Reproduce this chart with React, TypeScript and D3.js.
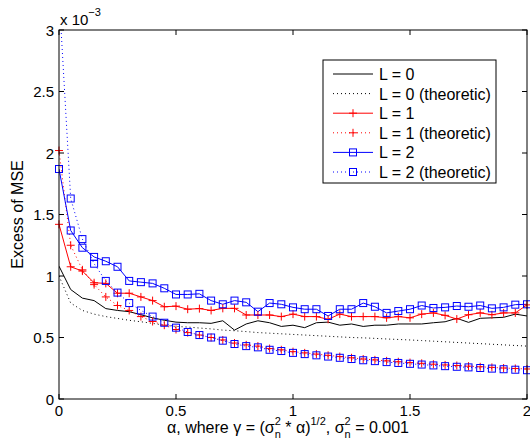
import React from "react";
import * as d3 from "d3";

const alpha = [0, 0.05, 0.1, 0.15, 0.2, 0.25, 0.3, 0.35, 0.4, 0.45, 0.5, 0.55, 0.6, 0.65, 0.7, 0.75, 0.8, 0.85, 0.9, 0.95, 1.0, 1.05, 1.1, 1.15, 1.2, 1.25, 1.3, 1.35, 1.4, 1.45, 1.5, 1.55, 1.6, 1.65, 1.7, 1.75, 1.8, 1.85, 1.9, 1.95, 2.0];

// values in units of 1e-3
const L0 = [1.08, 0.89, 0.82, 0.80, 0.735, 0.72, 0.71, 0.685, 0.66, 0.64, 0.625, 0.62, 0.62, 0.615, 0.636, 0.56, 0.61, 0.636, 0.62, 0.59, 0.60, 0.58, 0.62, 0.625, 0.60, 0.61, 0.59, 0.60, 0.60, 0.61, 0.61, 0.61, 0.62, 0.628, 0.656, 0.623, 0.656, 0.66, 0.664, 0.69, 0.675];
const L0theo = [1.0, 0.78, 0.72, 0.69, 0.67, 0.655, 0.64, 0.628, 0.615, 0.60, 0.59, 0.585, 0.577, 0.57, 0.56, 0.555, 0.548, 0.54, 0.535, 0.53, 0.525, 0.52, 0.515, 0.51, 0.505, 0.50, 0.497, 0.493, 0.488, 0.484, 0.48, 0.475, 0.47, 0.465, 0.46, 0.455, 0.45, 0.445, 0.44, 0.435, 0.43];
const L1 = [1.42, 1.075, 1.04, 0.945, 0.94, 0.86, 0.86, 0.83, 0.80, 0.75, 0.755, 0.73, 0.735, 0.72, 0.737, 0.737, 0.683, 0.683, 0.683, 0.67, 0.69, 0.67, 0.67, 0.648, 0.69, 0.67, 0.67, 0.67, 0.66, 0.67, 0.66, 0.69, 0.70, 0.68, 0.65, 0.685, 0.70, 0.685, 0.70, 0.70, 0.765];
const L1theo = [2.02, 1.25, 1.05, 0.93, 0.83, 0.76, 0.72, 0.67, 0.63, 0.60, 0.565, 0.54, 0.52, 0.50, 0.48, 0.455, 0.44, 0.43, 0.41, 0.40, 0.385, 0.375, 0.365, 0.355, 0.345, 0.335, 0.325, 0.318, 0.31, 0.303, 0.296, 0.29, 0.283, 0.277, 0.272, 0.267, 0.262, 0.257, 0.252, 0.248, 0.244];
const L2 = [1.87, 1.37, 1.23, 1.155, 1.12, 1.075, 0.96, 0.95, 0.94, 0.90, 0.85, 0.85, 0.855, 0.80, 0.77, 0.80, 0.786, 0.71, 0.78, 0.77, 0.745, 0.73, 0.73, 0.675, 0.73, 0.73, 0.78, 0.75, 0.70, 0.715, 0.73, 0.76, 0.74, 0.745, 0.756, 0.75, 0.76, 0.737, 0.745, 0.767, 0.77];
const L2theo = [3.3, 1.63, 1.30, 1.10, 0.96, 0.865, 0.78, 0.72, 0.67, 0.62, 0.58, 0.545, 0.52, 0.50, 0.474, 0.447, 0.43, 0.42, 0.40, 0.39, 0.375, 0.365, 0.355, 0.345, 0.335, 0.325, 0.315, 0.308, 0.30, 0.293, 0.286, 0.28, 0.273, 0.267, 0.262, 0.257, 0.252, 0.247, 0.242, 0.238, 0.234];

const xTicks = [0, 0.5, 1, 1.5, 2];
const yTicks = [0, 0.5, 1, 1.5, 2, 2.5, 3];
const legendLabels = ["L = 0", "L = 0 (theoretic)", "L = 1", "L = 1 (theoretic)", "L = 2", "L = 2 (theoretic)"];

const W = 530, H = 444;
const left = 59, right = 527, top = 30, bottom = 399;
const FONT = "'Liberation Sans', Arial, Helvetica, sans-serif";

type Series = { values: number[]; color: string; dash: string | null; marker: "none" | "plus" | "square" };

const series: Series[] = [
  { values: L0, color: "#000000", dash: null, marker: "none" },
  { values: L0theo, color: "#000000", dash: "1 3", marker: "none" },
  { values: L1, color: "#ff0000", dash: null, marker: "plus" },
  { values: L1theo, color: "#ff0000", dash: "1 3", marker: "plus" },
  { values: L2, color: "#0000ff", dash: null, marker: "square" },
  { values: L2theo, color: "#0000ff", dash: "1 3", marker: "square" },
];

function Marker({ kind, x, y, color }: { kind: string; x: number; y: number; color: string }) {
  if (kind === "plus") {
    return (
      <path d={`M${x - 4},${y}H${x + 4}M${x},${y - 4}V${y + 4}`} stroke={color} strokeWidth={1} fill="none" />
    );
  }
  if (kind === "square") {
    return <rect x={x - 3.5} y={y - 3.5} width={7} height={7} stroke={color} strokeWidth={1} fill="none" />;
  }
  return null;
}

export default function App() {
  const x = d3.scaleLinear().domain([0, 2]).range([left, right]);
  const y = d3.scaleLinear().domain([0, 3]).range([bottom, top]);
  const line = d3
    .line<number>()
    .x((_, i) => x(alpha[i]))
    .y((d) => y(d));

  const legX = 323, legY = 60, legW = 173, legH = 123;

  return (
    <svg width={W} height={H} style={{ position: "absolute", left: 0, top: 0, background: "#fff" }} fontFamily={FONT}>
      <rect x={0} y={0} width={W} height={H} fill="#fff" />
      <defs>
        <clipPath id="plotclip">
          <rect x={left} y={top} width={right - left} height={bottom - top} />
        </clipPath>
      </defs>

      {/* series */}
      <g clipPath="url(#plotclip)">
        {series.map((s, si) => (
          <path
            key={si}
            d={line(s.values) || ""}
            fill="none"
            stroke={s.color}
            strokeWidth={1}
            strokeDasharray={s.dash || undefined}
          />
        ))}
      </g>
      {series.map((s, si) =>
        s.marker === "none"
          ? null
          : s.values.map((v, i) =>
              v <= 3 ? <Marker key={`${si}-${i}`} kind={s.marker} x={x(alpha[i])} y={y(v)} color={s.color} /> : null
            )
      )}

      {/* axes box */}
      <rect x={left} y={top} width={right - left} height={bottom - top} fill="none" stroke="#000" strokeWidth={1} />
      {xTicks.map((t) => (
        <g key={`xt${t}`}>
          <line x1={x(t)} x2={x(t)} y1={bottom} y2={bottom - 5} stroke="#000" />
          <line x1={x(t)} x2={x(t)} y1={top} y2={top + 5} stroke="#000" />
          <text x={x(t)} y={416} fontSize={15} textAnchor="middle">
            {String(t)}
          </text>
        </g>
      ))}
      {yTicks.map((t) => (
        <g key={`yt${t}`}>
          <line x1={left} x2={left + 5} y1={y(t)} y2={y(t)} stroke="#000" />
          <line x1={right} x2={right - 5} y1={y(t)} y2={y(t)} stroke="#000" />
          <text x={54} y={y(t) + 5.5} fontSize={15} textAnchor="end">
            {String(t)}
          </text>
        </g>
      ))}

      {/* exponent */}
      <text x={60} y={25} fontSize={15}>
        x 10
        <tspan dy={-9} fontSize={11}>
          −3
        </tspan>
      </text>

      {/* y label */}
      <text transform={`translate(23,${(top + bottom) / 2}) rotate(-90)`} fontSize={16} textAnchor="middle">
        Excess of MSE
      </text>

      {/* x label */}
      <text x={288} y={433} fontSize={16} textAnchor="middle">
        α, where γ = (σ
        <tspan dy={5} fontSize={11}>n</tspan>
        <tspan dx={-6.1} dy={-13} fontSize={11}>2</tspan>
        <tspan dy={8}> * α)</tspan>
        <tspan dy={-8} fontSize={11}>1/2</tspan>
        <tspan dy={8}>, σ</tspan>
        <tspan dy={5} fontSize={11}>n</tspan>
        <tspan dx={-6.1} dy={-13} fontSize={11}>2</tspan>
        <tspan dy={8}> = 0.001</tspan>
      </text>

      {/* legend */}
      <rect x={legX} y={legY} width={legW} height={legH} fill="#fff" stroke="#000" strokeWidth={1} />
      {series.map((s, i) => {
        const ly = 74 + 19.6 * i;
        return (
          <g key={`leg${i}`}>
            <line x1={333} x2={373} y1={ly} y2={ly} stroke={s.color} strokeWidth={1} strokeDasharray={s.dash || undefined} />
            <Marker kind={s.marker} x={353} y={ly} color={s.color} />
            <text x={379} y={ly + 6} fontSize={16}>
              {legendLabels[i]}
            </text>
          </g>
        );
      })}
    </svg>
  );
}
